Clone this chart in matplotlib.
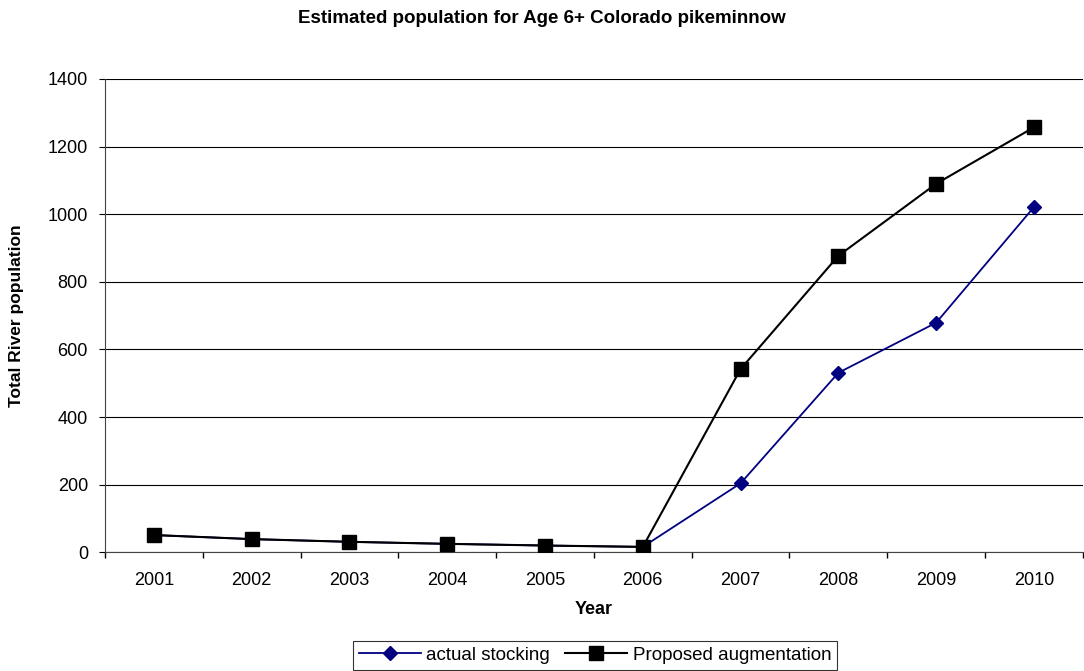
import matplotlib.pyplot as plt

plt.rcParams['font.family'] = ['Liberation Sans', 'DejaVu Sans']

# Datos
years = ['2001', '2002', '2003', '2004', '2005', '2006', '2007', '2008', '2009', '2010']
actual_stocking = [51, 39, 31, 25, 20, 16, 204, 531, 679, 1021]
proposed_augmentation = [51, 39, 31, 25, 20, 16, 542, 877, 1090, 1257]

fig = plt.figure(figsize=(10.84, 6.71), dpi=100)
ax = fig.add_axes([0.0969, 0.1769, 0.902, 0.7054])

x = list(range(len(years)))
ax.plot(x, actual_stocking, color='#000080', marker='D', markersize=7.5,
        linewidth=1.3, label='actual stocking', zorder=3)
ax.plot(x, proposed_augmentation, color='black', marker='s', markersize=10,
        linewidth=1.5, label='Proposed augmentation', zorder=4)

ax.set_ylim(0, 1400)
ax.set_yticks(range(0, 1401, 200))
ax.set_xlim(-0.5, len(years) - 0.5)

# Marcas entre categorias (estilo Excel)
ax.set_xticks([i - 0.5 for i in range(len(years) + 1)])
ax.set_xticklabels([])
ax.set_xticks(x, minor=True)
ax.set_xticklabels(years, minor=True)
ax.tick_params(axis='x', which='minor', length=0, pad=14, labelsize=13)
ax.tick_params(axis='x', which='major', length=4.3, direction='out', width=1)
ax.tick_params(axis='y', length=4.3, direction='out', labelsize=13, pad=8)

ax.grid(axis='y', color='black', linewidth=0.8)
ax.set_axisbelow(True)
ax.spines['top'].set_visible(False)
ax.spines['right'].set_visible(False)
ax.spines['left'].set_color('#444444')
ax.spines['bottom'].set_color('#444444')

ax.set_xlabel('Year', fontsize=13, fontweight='bold')
ax.xaxis.set_label_coords(0.5, -0.102)
ax.set_ylabel('Total River population', fontsize=12.5, fontweight='bold')
ax.yaxis.set_label_coords(-0.083, 0.5)
fig.text(0.5, 0.9717, 'Estimated population for Age 6+ Colorado pikeminnow',
         ha='center', va='center', fontsize=13.5, fontweight='bold')

leg = fig.legend(loc='lower center', bbox_to_anchor=(0.549, -0.012),
                 ncol=2, fontsize=13.5, frameon=True, fancybox=False,
                 edgecolor='black', handlelength=3.3, columnspacing=0.8,
                 handletextpad=0.3, borderpad=0.3)
leg.get_frame().set_linewidth(0.8)

plt.savefig('out.png', dpi=100)
